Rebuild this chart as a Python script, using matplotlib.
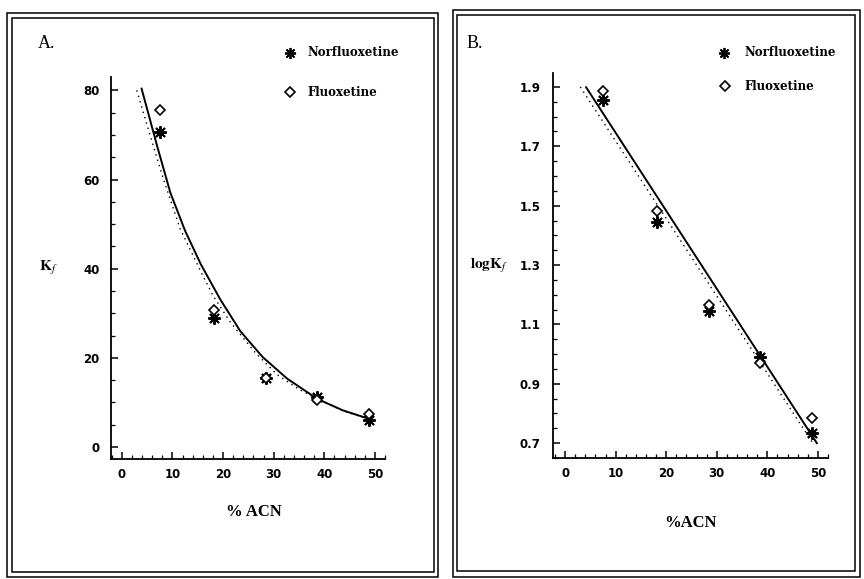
import matplotlib
matplotlib.use("Agg")
import matplotlib.pyplot as plt
from matplotlib.lines import Line2D
from matplotlib.patches import Rectangle
from matplotlib.ticker import MultipleLocator

# ---------------- data ----------------
acn = [7.5, 18.2, 28.5, 38.6, 48.9]

# Panel A: Kf
norf_k = [70.6, 29.0, 15.5, 11.2, 6.0]
fluox_k = [75.7, 30.8, 15.5, 10.5, 7.4]
fitA_solid_x = [3.9, 7.1, 9.6, 12.5, 15.6, 19.5, 23.4, 27.8, 32.7, 38.6, 43.7, 48.6]
fitA_solid_y = [80.4, 67.0, 57.0, 48.5, 41.0, 33.0, 26.0, 20.2, 15.3, 10.8, 8.2, 6.4]
fitA_dot_x = [2.95, 5.3, 8.1, 11.5, 16.1, 18.1, 21.5, 26.4, 30.7, 35.2, 40.0, 44.0, 48.6]
fitA_dot_y = [80.0, 71.0, 60.5, 49.0, 38.2, 33.8, 27.9, 21.1, 16.2, 12.8, 10.0, 8.0, 6.3]

# Panel B: log Kf
norf_logk = [1.856, 1.445, 1.145, 0.990, 0.734]
fluox_logk = [1.887, 1.482, 1.165, 0.971, 0.784]
fitB_solid_x = [4.15, 49.8]
fitB_solid_y = [1.899, 0.700]
fitB_dot_x = [3.0, 49.0]
fitB_dot_y = [1.900, 0.700]

xticksA = [0, 10, 20, 30, 40, 50]
yticksA = [0, 20, 40, 60, 80]
yticksB = [0.7, 0.9, 1.1, 1.3, 1.5, 1.7, 1.9]

# ---------------- figure ----------------
W, H = 864, 579
fig = plt.figure(figsize=(W / 100, H / 100), dpi=100)

def fx(px):
    return px / W

def fy(py):
    return 1 - py / H

serif = "Liberation Serif"
legserif = "DejaVu Serif"
sans = "DejaVu Sans"

def frame(x0, y0, x1, y1):
    fig.add_artist(Rectangle((fx(x0), fy(y1)), fx(x1) - fx(x0), fy(y0) - fy(y1),
                             transform=fig.transFigure, fill=False,
                             edgecolor="black", linewidth=1.1))

# double frames
frame(7, 13, 438, 577)
frame(12, 18, 434, 572)
frame(453, 10, 860, 577)
frame(457, 15, 855, 571)

def style_axes(ax, ypad):
    for s in ["top", "right"]:
        ax.spines[s].set_visible(False)
    for s in ["left", "bottom"]:
        ax.spines[s].set_linewidth(1.3)
    ax.tick_params(which="major", direction="in", length=5, width=1.1,
                   labelsize=8.5, colors="black")
    ax.tick_params(which="minor", direction="in", length=3, width=0.9)
    ax.tick_params(axis="y", pad=ypad)
    ax.tick_params(axis="x", pad=6.5)
    for lab in ax.get_xticklabels() + ax.get_yticklabels():
        lab.set_fontfamily(sans)
        lab.set_fontweight("bold")

ast = dict(marker=(8, 2, 0), markersize=9, markeredgewidth=1.4,
           color="black", linestyle="none")
dia = dict(marker="D", markersize=5.5, markeredgewidth=1.2,
           markerfacecolor="white", markeredgecolor="black", linestyle="none")
ast_leg = dict(ast, markersize=8, markeredgewidth=1.3)

# ---------------- Panel A ----------------
axA = fig.add_axes([fx(110.7), fy(459), fx(385) - fx(110.7), fy(77) - fy(459)])
axA.plot(fitA_dot_x, fitA_dot_y, color="black", linewidth=1.0,
         linestyle=(0, (1, 3)))
axA.plot(fitA_solid_x, fitA_solid_y, color="black", linewidth=1.4)
axA.plot(acn, norf_k, **ast)
axA.plot(acn, fluox_k, **dia)
axA.set_xlim(-2.2, 52)
axA.set_ylim(-2.7, 83)
axA.set_xticks(xticksA)
axA.set_yticks(yticksA)
axA.xaxis.set_minor_locator(MultipleLocator(2))
axA.yaxis.set_minor_locator(MultipleLocator(5))
style_axes(axA, 8)

# ---------------- Panel B ----------------
axB = fig.add_axes([fx(553), fy(458), fx(828) - fx(553), fy(73) - fy(458)])
axB.plot(fitB_dot_x, fitB_dot_y, color="black", linewidth=1.0,
         linestyle=(0, (1, 3)))
axB.plot(fitB_solid_x, fitB_solid_y, color="black", linewidth=1.4)
axB.plot(acn, norf_logk, **ast)
axB.plot(acn, fluox_logk, **dia)
axB.set_xlim(-2.4, 52)
axB.set_ylim(0.65, 1.947)
axB.set_xticks(xticksA)
axB.set_yticks(yticksB)
axB.set_yticklabels([f"{v:.1f}" for v in yticksB])
axB.xaxis.set_minor_locator(MultipleLocator(2))
axB.yaxis.set_minor_locator(MultipleLocator(0.05))
style_axes(axB, 9)

# ---------------- texts ----------------
fig.text(fx(47), fy(44), "A.", fontfamily=serif, fontsize=13,
         ha="center", va="center")
fig.text(fx(475), fy(44), "B.", fontfamily=serif, fontsize=13,
         ha="center", va="center")

fig.text(fx(48), fy(268), r"$\mathbf{K}_{\mathit{f}}$", fontsize=11,
         ha="center", va="center", math_fontfamily="stix")
fig.text(fx(489), fy(266), r"$\mathbf{logK}_{\mathit{f}}$", fontsize=11,
         ha="center", va="center", math_fontfamily="stix")

fig.text(fx(254), fy(512), "% ACN", fontfamily=serif, fontweight="bold",
         fontsize=12, ha="center", va="center")
fig.text(fx(691), fy(523), "%ACN", fontfamily=serif, fontweight="bold",
         fontsize=12, ha="center", va="center")

# legends
def legend_entry(mx, my, tx, label, style):
    fig.add_artist(Line2D([fx(mx)], [fy(my)], transform=fig.transFigure, **style))
    fig.text(fx(tx), fy(my), label, fontfamily=legserif, fontweight="bold",
             fontsize=8.5, ha="left", va="center")

legend_entry(290, 53, 307, "Norfluoxetine", ast_leg)
legend_entry(290, 92, 307, "Fluoxetine", dia)
legend_entry(724, 53, 744, "Norfluoxetine", ast_leg)
legend_entry(725, 86, 744, "Fluoxetine", dia)

fig.savefig("out.png", dpi=100)
